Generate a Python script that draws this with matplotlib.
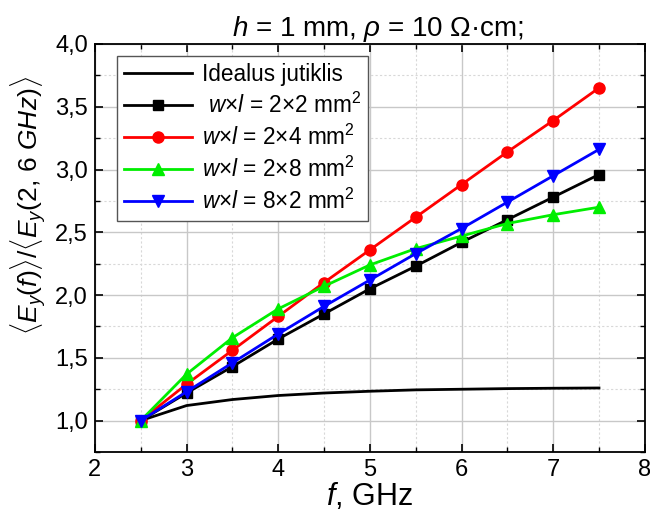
import numpy as np
from matplotlib import pyplot as plt
from matplotlib.ticker import MultipleLocator, FuncFormatter

freq = [2.5, 3.0, 3.5, 4.0, 4.5, 5.0, 5.5, 6.0, 6.5, 7.0, 7.5]
ideal = [1.0, 1.12, 1.168, 1.20, 1.22, 1.234, 1.245, 1.25, 1.255, 1.258, 1.26]
s_2x2 = [1.0, 1.22, 1.43, 1.65, 1.85, 2.05, 2.23, 2.42, 2.60, 2.78, 2.96]
s_2x4 = [1.0, 1.29, 1.56, 1.83, 2.10, 2.36, 2.62, 2.88, 3.14, 3.39, 3.65]
s_2x8 = [1.0, 1.37, 1.66, 1.89, 2.07, 2.24, 2.37, 2.47, 2.57, 2.64, 2.70]
s_8x2 = [1.0, 1.23, 1.46, 1.69, 1.91, 2.12, 2.33, 2.53, 2.74, 2.95, 3.16]

labels = [
    "Idealus jutiklis",
    r" $w$×$l$ = 2×2 mm$^2$",
    r"$w$×$l$ = 2×4 mm$^2$",
    r"$w$×$l$ = 2×8 mm$^2$",
    r"$w$×$l$ = 8×2 mm$^2$",
]

plt.rcParams['font.family'] = ['Liberation Sans', 'DejaVu Sans']
plt.rcParams['mathtext.fontset'] = 'custom'
plt.rcParams['mathtext.rm'] = 'Liberation Sans'
plt.rcParams['mathtext.it'] = 'Liberation Sans:italic'
plt.rcParams['mathtext.bf'] = 'Liberation Sans:bold'

fig = plt.figure(figsize=(6.5, 5.15), dpi=100)
ax = fig.add_axes([0.146, 0.1223, 0.846, 0.7923])

lw = 2.0
ax.plot(freq, ideal, color="black", lw=lw, label=labels[0], zorder=3)
ax.plot(freq, s_2x2, color="black", lw=lw, marker="s", ms=7, label=labels[1], zorder=4)
ax.plot(freq, s_2x4, color="red", lw=lw, marker="o", ms=8, label=labels[2], zorder=4)
ax.plot(freq, s_2x8, color="#00ee00", lw=lw, marker="^", ms=8, label=labels[3], zorder=4)
ax.plot(freq, s_8x2, color="blue", lw=lw, marker="v", ms=8, label=labels[4], zorder=4)

ax.set_xlim(2, 8)
ax.set_ylim(0.75, 4.0)
ax.xaxis.set_major_locator(MultipleLocator(1))
ax.xaxis.set_minor_locator(MultipleLocator(0.5))
ax.yaxis.set_major_locator(MultipleLocator(0.5))
ax.yaxis.set_minor_locator(MultipleLocator(0.25))
ax.yaxis.set_major_formatter(FuncFormatter(lambda v, p: f"{v:.1f}".replace('.', ',')))

ax.grid(True, which="major", color="#c8c8c8", lw=1.0)
ax.grid(True, which="minor", color="#d8d8d8", lw=0.8, ls=(0, (2, 2)))
ax.set_axisbelow(True)

ax.tick_params(which="both", direction="in", top=True, right=True, labelsize=17)
ax.tick_params(which="major", length=6, width=1.2, pad=5)
ax.tick_params(which="minor", length=3.5, width=1.0)
for sp in ax.spines.values():
    sp.set_linewidth(1.3)

ax.set_xlabel(r"$f$, GHz", fontsize=22, labelpad=0)
ax.set_ylabel(r"$\langle E_y(f)\rangle{/}\langle E_y(\mathit{2,\,6\ GHz})\rangle$", fontsize=19)
ax.yaxis.set_label_coords(-0.085, 0.605)
ax.set_title(r"$h$ = 1 mm, $\rho$ = 10 Ω·cm;", fontsize=20, pad=5, x=0.515)

leg = ax.legend(loc="upper left", bbox_to_anchor=(0.04, 0.97), fontsize=16.3,
                frameon=True, fancybox=False, framealpha=1, edgecolor="#555555",
                handlelength=3.0, borderpad=0.3, labelspacing=0.3, handletextpad=0.45,
                borderaxespad=0)
leg.get_frame().set_linewidth(1.0)

fig.savefig("out.png", dpi=100)
